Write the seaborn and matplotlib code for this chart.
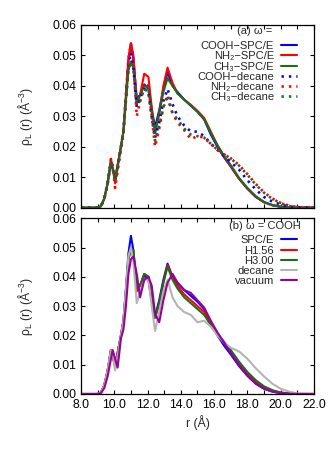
import numpy as np
import pandas as pd
import matplotlib
matplotlib.use("Agg")
import matplotlib.pyplot as plt
import seaborn as sns
from matplotlib.ticker import MultipleLocator, FormatStrFormatter

# ---------------- data ----------------
r = [8.0, 9.0, 9.2, 9.4, 9.6, 9.8, 9.9, 10.05, 10.2, 10.4, 10.55, 10.7, 10.85,
     11.0, 11.15, 11.35, 11.55, 11.8, 12.05, 12.25, 12.45, 12.7, 12.95, 13.2,
     13.5, 13.8, 14.2, 14.6, 15.0, 15.4, 15.8, 16.2, 16.6, 17.0, 17.5, 18.0,
     18.5, 19.0, 19.5, 20.0, 20.5, 21.0, 22.0]

cooh_spce = [0, 0, 0.0005, 0.003, 0.008, 0.015, 0.013, 0.0095, 0.014, 0.020, 0.025, 0.036, 0.048,
             0.054, 0.049, 0.036, 0.037, 0.0405, 0.039, 0.032, 0.0265, 0.032, 0.039, 0.0445,
             0.040, 0.038, 0.0355, 0.0335, 0.0315, 0.029, 0.024, 0.020, 0.0165, 0.0135, 0.0095, 0.0062,
             0.0035, 0.0018, 0.0008, 0.0003, 0.0001, 0, 0]
nh2_spce = [0, 0, 0.0005, 0.003, 0.008, 0.016, 0.013, 0.008, 0.013, 0.020, 0.025, 0.037, 0.049,
            0.054, 0.050, 0.034, 0.037, 0.044, 0.043, 0.033, 0.0245, 0.031, 0.040, 0.046,
            0.041, 0.0375, 0.0355, 0.0338, 0.0318, 0.0295, 0.025, 0.0205, 0.0168, 0.0135, 0.0095, 0.0063,
            0.0036, 0.0018, 0.0008, 0.0003, 0.0001, 0, 0]
ch3_spce = [0, 0, 0.0005, 0.003, 0.008, 0.015, 0.013, 0.0095, 0.014, 0.020, 0.025, 0.035, 0.045,
            0.048, 0.046, 0.035, 0.037, 0.040, 0.0395, 0.032, 0.025, 0.031, 0.038, 0.0425,
            0.040, 0.0375, 0.0355, 0.0335, 0.0315, 0.029, 0.0245, 0.0205, 0.017, 0.014, 0.0098, 0.0065,
            0.0038, 0.0019, 0.0009, 0.0003, 0.0001, 0, 0]
cooh_dec = [0, 0, 0.0005, 0.003, 0.008, 0.015, 0.013, 0.009, 0.013, 0.020, 0.025, 0.036, 0.047,
            0.051, 0.046, 0.033, 0.036, 0.039, 0.038, 0.030, 0.023, 0.028, 0.035, 0.039,
            0.034, 0.030, 0.027, 0.025, 0.025, 0.0235, 0.021, 0.019, 0.017, 0.015, 0.0125, 0.009,
            0.006, 0.0035, 0.002, 0.001, 0.0004, 0.0001, 0]
nh2_dec = [0, 0, 0.0005, 0.003, 0.008, 0.016, 0.014, 0.0065, 0.012, 0.019, 0.025, 0.037, 0.049,
           0.054, 0.048, 0.030, 0.035, 0.041, 0.040, 0.030, 0.020, 0.026, 0.033, 0.037,
           0.031, 0.028, 0.0255, 0.0225, 0.0235, 0.023, 0.021, 0.019, 0.0175, 0.0162, 0.014, 0.011,
           0.0078, 0.005, 0.003, 0.0016, 0.0007, 0.0002, 0]
ch3_dec = [0, 0, 0.0005, 0.003, 0.008, 0.015, 0.013, 0.009, 0.013, 0.020, 0.025, 0.035, 0.045,
           0.048, 0.045, 0.034, 0.035, 0.039, 0.038, 0.030, 0.022, 0.027, 0.033, 0.036,
           0.031, 0.029, 0.026, 0.024, 0.0235, 0.023, 0.021, 0.019, 0.0175, 0.0162, 0.0138, 0.0108,
           0.0076, 0.0049, 0.0029, 0.0015, 0.0006, 0.0002, 0]

spce = cooh_spce
h156 = [0, 0, 0.0005, 0.003, 0.008, 0.015, 0.013, 0.0095, 0.014, 0.020, 0.025, 0.035, 0.046,
        0.050, 0.048, 0.035, 0.037, 0.041, 0.040, 0.032, 0.026, 0.031, 0.038, 0.044,
        0.040, 0.037, 0.034, 0.032, 0.030, 0.028, 0.024, 0.0205, 0.0175, 0.0145, 0.0105, 0.007,
        0.0043, 0.0023, 0.0011, 0.0004, 0.0001, 0, 0]
h300 = [0, 0, 0.0005, 0.003, 0.008, 0.015, 0.013, 0.0095, 0.014, 0.020, 0.025, 0.035, 0.046,
        0.0495, 0.049, 0.036, 0.037, 0.041, 0.040, 0.032, 0.026, 0.031, 0.038, 0.0435,
        0.039, 0.036, 0.033, 0.031, 0.029, 0.027, 0.0235, 0.0205, 0.0178, 0.015, 0.011, 0.0075,
        0.0047, 0.0026, 0.0013, 0.0005, 0.0002, 0, 0]
decane = [0, 0, 0.0005, 0.003, 0.008, 0.015, 0.014, 0.008, 0.013, 0.020, 0.025, 0.036, 0.047,
          0.050, 0.045, 0.031, 0.035, 0.039, 0.039, 0.030, 0.0215, 0.028, 0.035, 0.039,
          0.033, 0.030, 0.028, 0.027, 0.0245, 0.025, 0.023, 0.020, 0.0175, 0.0158, 0.0145, 0.012,
          0.0088, 0.006, 0.0035, 0.0018, 0.0008, 0.0002, 0]
vacuum = [0, 0, 0.0003, 0.002, 0.006, 0.012, 0.015, 0.012, 0.009, 0.019, 0.022, 0.030, 0.041,
          0.046, 0.047, 0.041, 0.033, 0.039, 0.040, 0.037, 0.0275, 0.0245, 0.032, 0.038,
          0.041, 0.038, 0.0355, 0.0345, 0.032, 0.0295, 0.025, 0.021, 0.0175, 0.014, 0.0098, 0.0063,
          0.0036, 0.0018, 0.0008, 0.0003, 0.0001, 0, 0]

top_labels = ["COOH\u2212SPC/E", "NH\u2082\u2212SPC/E", "CH\u2083\u2212SPC/E",
              "COOH\u2212decane", "NH\u2082\u2212decane", "CH\u2083\u2212decane"]
bot_labels = ["SPC/E", "H1.56", "H3.00", "decane", "vacuum"]
x_ticks = [8.0, 10.0, 12.0, 14.0, 16.0, 18.0, 20.0, 22.0]
y_ticks = [0.00, 0.01, 0.02, 0.03, 0.04, 0.05, 0.06]

# ---------------- style ----------------
sns.set_style("ticks")
plt.rcParams['font.family'] = ['Liberation Sans', 'DejaVu Sans']
plt.rcParams['mathtext.fontset'] = 'custom'
plt.rcParams['mathtext.rm'] = 'Liberation Sans'
plt.rcParams['mathtext.it'] = 'Liberation Sans:italic'
plt.rcParams['mathtext.bf'] = 'Liberation Sans:bold'

BLUE, RED, GREEN = "#0000ff", "#ff0000", "#1a6e1a"
GRAY, PURPLE = "#b4b4b4", "#990099"
FS = 8.8
LFS = 8.0
LW = 1.5
DOT = (0, (0.9, 1.9))

fig = plt.figure(figsize=(3.34, 4.57), dpi=100)
ax1 = fig.add_axes([0.2425, 0.5455, 0.6976, 0.3998])
ax2 = fig.add_axes([0.2425, 0.1379, 0.6976, 0.3845])

top_series = [cooh_spce, nh2_spce, ch3_spce, cooh_dec, nh2_dec, ch3_dec]
top_colors = [BLUE, RED, GREEN, BLUE, RED, GREEN]
for i, (ys, c, lab) in enumerate(zip(top_series, top_colors, top_labels)):
    df = pd.DataFrame({"r": r, "rho": ys})
    ls = "-" if i < 3 else DOT
    lw = LW if i < 3 else 1.9
    sns.lineplot(data=df, x="r", y="rho", ax=ax1, color=c, lw=lw, label=lab,
                 linestyle=ls, dash_capstyle="butt")

bot_series = [spce, h156, h300, decane, vacuum]
bot_colors = [BLUE, RED, GREEN, GRAY, PURPLE]
for ys, c, lab in zip(bot_series, bot_colors, bot_labels):
    df = pd.DataFrame({"r": r, "rho": ys})
    sns.lineplot(data=df, x="r", y="rho", ax=ax2, color=c, lw=LW, label=lab)

ylab = "ρ$_{\\rm L}$ (r) (Å$^{-3}$)"
for ax in (ax1, ax2):
    ax.set_xlim(8, 22)
    ax.set_ylim(0, 0.06)
    ax.set_xticks(x_ticks)
    ax.xaxis.set_minor_locator(MultipleLocator(1.0))
    ax.set_yticks(y_ticks)
    ax.yaxis.set_major_formatter(FormatStrFormatter("%.2f"))
    ax.tick_params(which="both", direction="in", top=True, right=True,
                   length=3.2, width=0.8, labelsize=FS, colors="black")
    for s in ax.spines.values():
        s.set_linewidth(0.9)
        s.set_color("black")
    ax.set_ylabel(ylab, fontsize=FS, labelpad=12)

ax1.set_xlabel("")
ax1.tick_params(labelbottom=False)
ax2.xaxis.set_major_formatter(FormatStrFormatter("%.1f"))
ax2.set_xlabel("r (Å)", fontsize=FS, labelpad=3)

leg_kw = dict(frameon=False, markerfirst=False, fontsize=LFS, handlelength=1.5,
              handletextpad=0.6, borderaxespad=0.0, loc="upper right",
              labelspacing=0.02)
ax1.legend(bbox_to_anchor=(0.948, 0.936), **leg_kw)
ax2.legend(bbox_to_anchor=(0.948, 0.928), **leg_kw)

ax1.text(0.822, 0.9645, "(a) ω =", transform=ax1.transAxes, ha="right", va="center",
         fontsize=LFS)
ax2.text(0.944, 0.956, "(b) ω = COOH", transform=ax2.transAxes, ha="right", va="center",
         fontsize=LFS)

fig.savefig("out.png", dpi=100)
